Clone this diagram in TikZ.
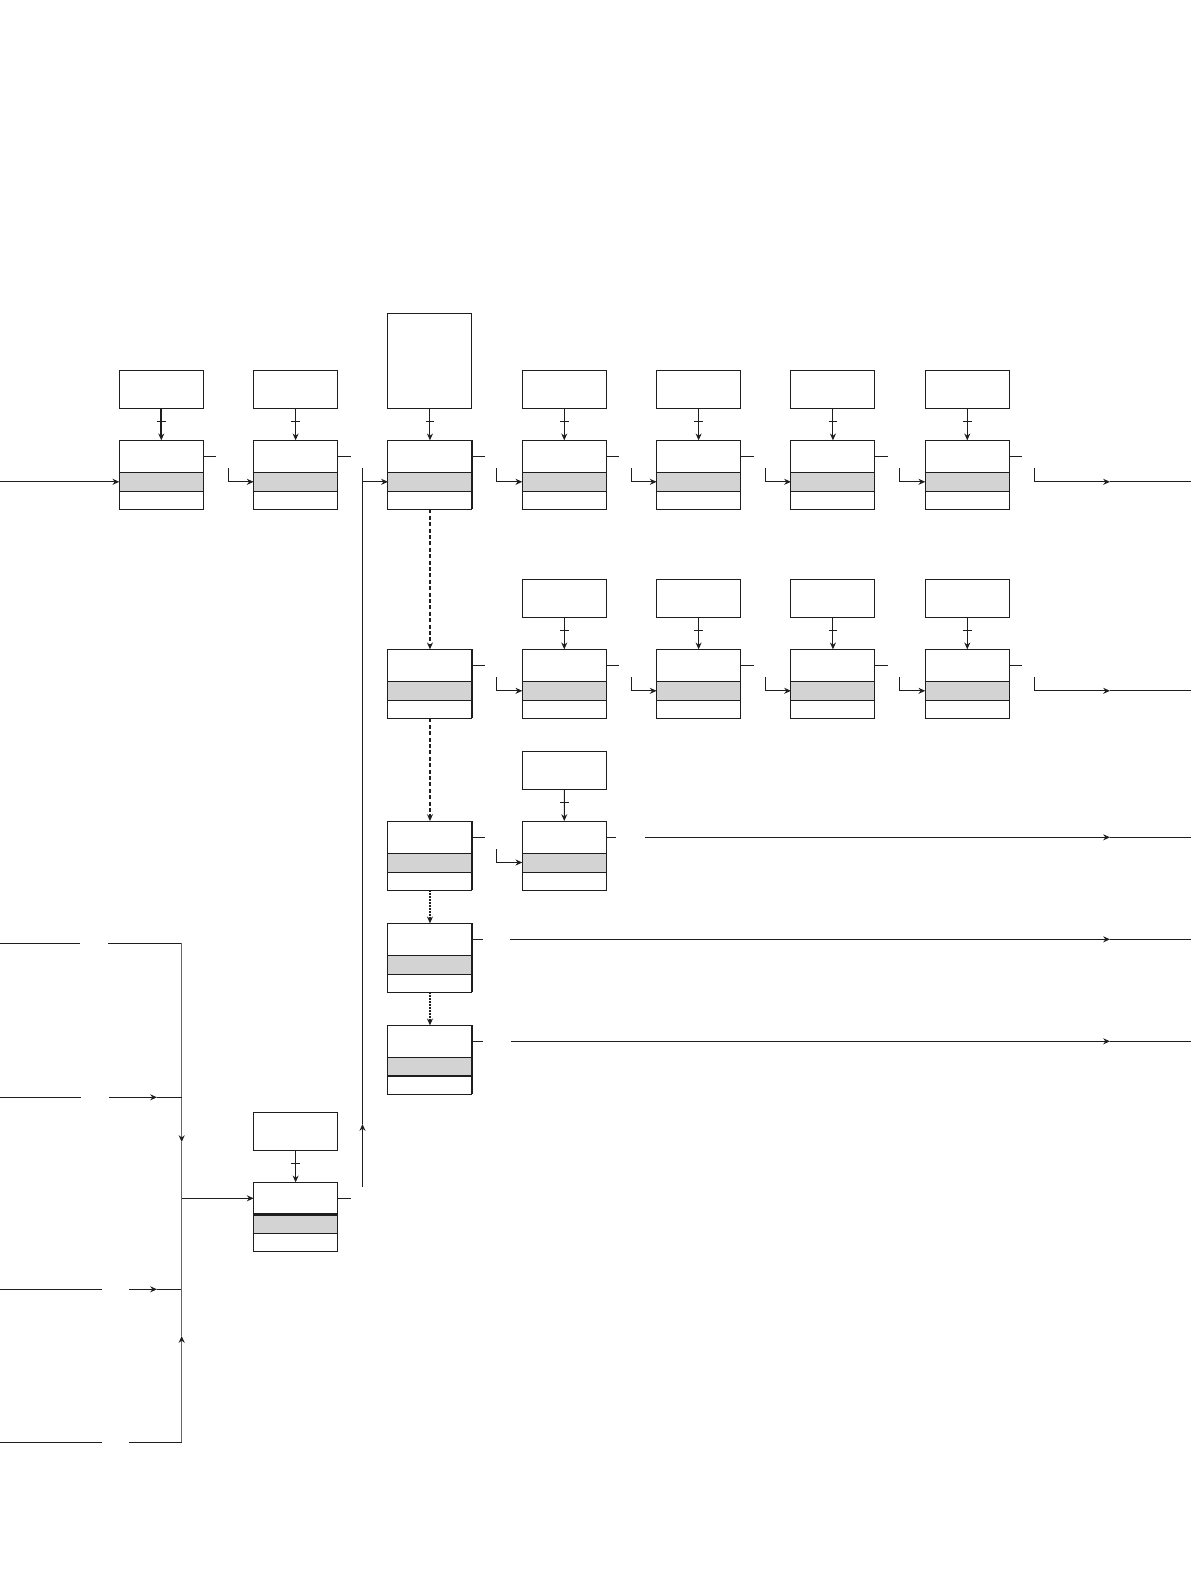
\documentclass[tikz,border=0pt]{standalone}
\usetikzlibrary{arrows.meta,decorations.markings,calc}
\definecolor{bandgray}{RGB}{211,211,211}
\definecolor{ink}{RGB}{30,30,30}
\tikzset{
  ln/.style={draw=ink, line width=0.5pt},
  arr/.style={-{Stealth[length=3.4pt,width=3pt,inset=1.1pt,color=ink]}},
  boxbase/.style={draw=ink, line width=0.5pt, fill=white, inner sep=0pt, outer sep=0pt, anchor=north west, minimum width=42pt},
  sbox/.style={boxbase, minimum height=19pt},
  tbox/.style={boxbase, minimum height=47.5pt},
  mbox/.style={boxbase, minimum height=34.5pt, path picture={
     \fill[bandgray] ([yshift=-16pt]path picture bounding box.north west) rectangle ([yshift=-25.5pt]path picture bounding box.north east);
     \draw[ink, line width=0.5pt] ([yshift=-16pt]path picture bounding box.north west) -- ([yshift=-16pt]path picture bounding box.north east);
     \draw[ink, line width=0.5pt] ([yshift=-25.5pt]path picture bounding box.north west) -- ([yshift=-25.5pt]path picture bounding box.north east);
  }},
  tickmark/.style={postaction={decorate, decoration={markings, mark=at position 0.42 with {\draw[ink, line width=0.45pt, -] (0,-2.2pt) -- (0,2.2pt);}}}},
  dashone/.style={draw=ink, line width=1pt, dash pattern=on 2pt off 1.2pt},
  dotone/.style={draw=ink, line width=1pt, dash pattern=on 0.8pt off 0.7pt},
  vgray/.style={draw=black!60, line width=0.6pt},
}
\begin{document}
\begin{tikzpicture}[x=0.5pt,y=-0.5pt]
\useasboundingbox (0,0) rectangle (1191,1587);

% ---------- row 1 ----------
\foreach \i in {1,...,7} \node[mbox] (r1c\i) at ({119.3+134.33*(\i-1)},440.3) {};
\foreach \i in {1,2,4,5,6,7} \node[sbox] (s1c\i) at ({119.3+134.33*(\i-1)},370.3) {};
\node[tbox] (s1c3) at (387.96,313.3) {};
\draw[ink, line width=1.1pt, arr, tickmark] (s1c1.south) -- (r1c1.north);
\foreach \i in {2,...,7} \draw[ln,arr,tickmark] (s1c\i.south) -- (r1c\i.north);
\foreach \i in {1,...,7} \draw[ln] ([yshift=-8pt]r1c\i.north east) -- ++(13,0);
\foreach \i/\j in {2/1,4/3,5/4,6/5,7/6} \draw[ln,arr] ([xshift=12.5pt,yshift=-14pt]r1c\j.north east) |- ([yshift=-20.75pt]r1c\i.north west);
\coordinate (o1a) at ([xshift=12.5pt,yshift=-14pt]r1c7.north east);
\coordinate (o1m) at (1110,481.8);
\coordinate (o1b) at (1191,481.8);
\draw[ln,arr] (o1a) |- (o1m);
\draw[ln] (o1m) -- (o1b);
\coordinate (in1) at (0,481.8);
\draw[ln,arr] (in1) -- ([yshift=-20.75pt]r1c1.north west);

% vertical feed into column 3
\coordinate (vb) at (362.5,1186.7);
\coordinate (vm) at (362.5,1124);
\coordinate (vj) at (362.5,481.8);
\coordinate (vt) at (362.5,468.3);
\draw[ln,arr] (vb) -- (vm);
\draw[ln] (vm) -- (vt);
\draw[ln,arr] (vj) -- ([yshift=-20.75pt]r1c3.north west);

% ---------- row 2 ----------
\foreach \i in {3,...,7} \node[mbox] (r2c\i) at ({119.3+134.33*(\i-1)},649.3) {};
\foreach \i in {4,...,7} \node[sbox] (s2c\i) at ({119.3+134.33*(\i-1)},579.3) {};
\foreach \i in {4,...,7} \draw[ln,arr,tickmark] (s2c\i.south) -- (r2c\i.north);
\foreach \i in {3,...,7} \draw[ln] ([yshift=-8pt]r2c\i.north east) -- ++(13,0);
\foreach \i/\j in {4/3,5/4,6/5,7/6} \draw[ln,arr] ([xshift=12.5pt,yshift=-14pt]r2c\j.north east) |- ([yshift=-20.75pt]r2c\i.north west);
\coordinate (o2a) at ([xshift=12.5pt,yshift=-14pt]r2c7.north east);
\coordinate (o2m) at (1110,690.8);
\coordinate (o2b) at (1191,690.8);
\draw[ln,arr] (o2a) |- (o2m);
\draw[ln] (o2m) -- (o2b);

% ---------- row 3 ----------
\foreach \i in {3,4} \node[mbox] (r3c\i) at ({119.3+134.33*(\i-1)},821) {};
\node[sbox] (s3c4) at (522.29,751.3) {};
\draw[ln,arr,tickmark] (s3c4.south) -- (r3c4.north);
\draw[ln] ([yshift=-8pt]r3c3.north east) -- ++(13,0);
\draw[ln] ([yshift=-8pt]r3c4.north east) -- ++(10,0);
\draw[ln,arr] ([xshift=12.5pt,yshift=-14pt]r3c3.north east) |- ([yshift=-20.75pt]r3c4.north west);
\coordinate (o3a) at (645,837.3);
\coordinate (o3m) at (1110,837.3);
\coordinate (o3b) at (1191,837.3);
\draw[ln,arr] (o3a) -- (o3m);
\draw[ln] (o3m) -- (o3b);

% ---------- rows 4 and 5 ----------
\node[mbox] (r4c3) at (387.96,923.3) {};
\node[mbox] (r5c3) at (387.96,1025.3) {};
\draw[ln] ([yshift=-8pt]r4c3.north east) -- ++(11,0);
\draw[ln] ([yshift=-8pt]r5c3.north east) -- ++(11,0);
\coordinate (o4a) at (510,939.3);
\coordinate (o4m) at (1110,939.3);
\coordinate (o4b) at (1191,939.3);
\draw[ln,arr] (o4a) -- (o4m);
\draw[ln] (o4m) -- (o4b);
\coordinate (o5a) at (511,1041.3);
\coordinate (o5m) at (1110,1041.3);
\coordinate (o5b) at (1191,1041.3);
\draw[ln,arr] (o5a) -- (o5m);
\draw[ln] (o5m) -- (o5b);
\draw[ink, line width=1.1pt] ([yshift=-25.5pt]r5c3.north west) -- ([yshift=-25.5pt]r5c3.north east);

% column 3 chain
\draw[dashone,arr] (r1c3.south) -- (r2c3.north);
\draw[dashone,arr] (r2c3.south) -- (r3c3.north);
\draw[dotone,arr] (r3c3.south) -- (r4c3.north);
\draw[dotone,arr] (r4c3.south) -- (r5c3.north);
\foreach \rr in {1,...,5} \draw[ink, line width=1.3pt] (r\rr c3.north east) -- (r\rr c3.south east);

% ---------- bottom box ----------
\node[sbox] (s0) at (253.63,1112.3) {};
\node[mbox] (b0) at (253.63,1182.3) {};
\draw[ln,arr,tickmark] (s0.south) -- (b0.north);
\draw[ink, line width=1.2pt] ([yshift=-16pt]b0.north west) -- ([yshift=-16pt]b0.north east);
\draw[ln] ([yshift=-8pt]b0.north east) -- ++(13,0);

% ---------- left inputs ----------
\coordinate (jn) at (181.7,1198.3);
\coordinate (la0) at (0,943.3);
\coordinate (la1) at (80,943.3);
\coordinate (la2) at (108.3,943.3);
\coordinate (lac) at (181.7,943.3);
\coordinate (lam) at (181.7,1142);
\draw[ln] (la0) -- (la1);
\draw[ln] (la2) -- (lac);
\draw[vgray,arr] (lac) -- (lam);
\draw[vgray] (lam) -- (jn);

\coordinate (lb0) at (0,1097.3);
\coordinate (lb1) at (81,1097.3);
\coordinate (lb2) at (109,1097.3);
\coordinate (lbm) at (157,1097.3);
\coordinate (lbe) at (181.7,1097.3);
\draw[ln] (lb0) -- (lb1);
\draw[ln,arr] (lb2) -- (lbm);
\draw[ln] (lbm) -- (lbe);

\coordinate (lc0) at (0,1289.3);
\coordinate (lc1) at (101.7,1289.3);
\coordinate (lc2) at (129,1289.3);
\coordinate (lcm) at (157,1289.3);
\coordinate (lce) at (181.7,1289.3);
\draw[ln] (lc0) -- (lc1);
\draw[ln,arr] (lc2) -- (lcm);
\draw[ln] (lcm) -- (lce);

\coordinate (ld0) at (0,1442.3);
\coordinate (ld1) at (101.7,1442.3);
\coordinate (ld2) at (129,1442.3);
\coordinate (ldc) at (181.7,1442.3);
\coordinate (ldm) at (181.7,1336);
\draw[ln] (ld0) -- (ld1);
\draw[ln] (ld2) -- (ldc);
\draw[vgray,arr] (ldc) -- (ldm);
\draw[vgray] (ldm) -- (jn);

\draw[ln,arr] (jn) -- ([yshift=-8pt]b0.north west);
\end{tikzpicture}
\end{document}
